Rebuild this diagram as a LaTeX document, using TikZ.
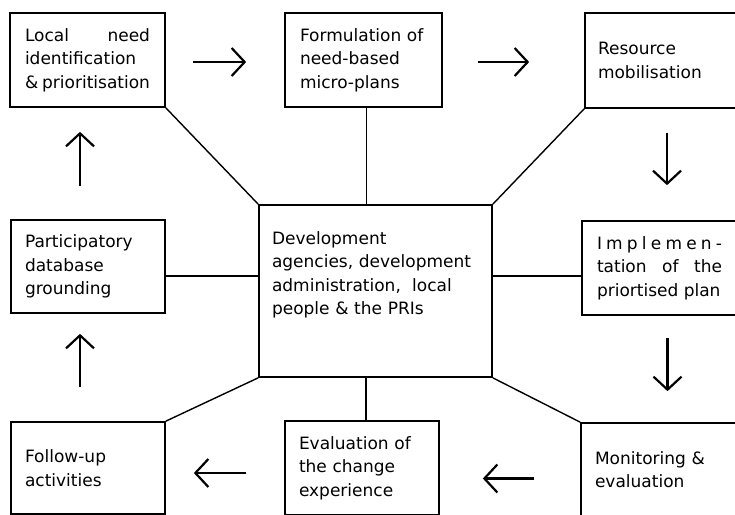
\documentclass[tikz,border=0pt]{standalone}
\usepackage{fontspec}
\setmainfont{DejaVu Sans}
\usetikzlibrary{arrows.meta}
\begin{document}
\begin{tikzpicture}[x=1pt,y=-1pt,
  box/.style={draw, line width=1.7pt, inner sep=0pt, align=left,
    font=\fontsize{17}{23.5}\selectfont},
  link/.style={line width=1.4pt},
  flow/.style={line width=2.2pt, -{Straight Barb[length=13pt,width=28pt,line width=2.2pt]}}]
\useasboundingbox[fill=white] (0,0) rectangle (735,514);

% boxes
\node[box, minimum width=155pt, minimum height=94pt, text width=125pt, align=justify] (L) at (87.5,60)
  {Local\hfill need\\identification\\\&~prioritisation};
\node[box, minimum width=157pt, minimum height=94pt, text width=127pt] (F) at (363.5,60)
  {Formulation of\\need-based\\micro-plans};
\node[box, minimum width=152pt, minimum height=95pt, text width=126pt] (R) at (661,60.5)
  {Resource\\mobilisation};
\node[box, minimum width=154pt, minimum height=93pt, text width=126pt] (P) at (88,266.5)
  {Participatory\\database\\grounding};
\node[box, minimum width=233pt, minimum height=172pt, text width=207pt] (C) at (375.5,291)
  {Development\\agencies, development\\administration,~ local\\people \& the PRIs\\[12pt]\mbox{}};
\node[box, minimum width=155pt, minimum height=94pt, text width=125pt, align=justify] (I) at (659.5,268)
  {I\hfill m\hfill p\hfill l\hfill e\hfill m\hfill e\hfill n\hfill -\\tation\hfill of\hfill the\\priortised plan};
\node[box, minimum width=154pt, minimum height=92pt, text width=126pt] (Fo) at (88,468)
  {Follow-up\\activities};
\node[box, minimum width=154pt, minimum height=94pt, text width=126pt] (E) at (362,468)
  {Evaluation of\\the change\\experience};
\node[box, minimum width=156pt, minimum height=93pt, text width=128pt] (M) at (659,469.5)
  {Monitoring \&\\evaluation};

% connectors to the centre
\coordinate (hl) at (0,276);
\draw[link] (L.south east) -- (C.north west);
\draw[link] ([xshift=3pt]F.south) -- ([xshift=3pt]F.south |- C.north);
\draw[link] (R.south west) -- (C.north east);
\draw[link] (P.east |- hl) -- (C.west |- hl);
\draw[link] (I.west |- hl) -- (C.east |- hl);
\draw[link] (Fo.north east) -- (C.south west);
\draw[link] ([xshift=4pt]E.north) -- ([xshift=4pt]E.north |- C.south);
\draw[link] (M.north west) -- (C.south east);

% flow arrows
\draw[flow, shorten <=27pt, shorten >=38pt] ([yshift=-2pt]L.east) -- ([yshift=-2pt]F.west);
\draw[flow, shorten <=35pt, shorten >=55pt] ([yshift=-2pt]F.east) -- ([yshift=-2pt]F.east -| R.west);
\draw[flow, shorten <=24pt, shorten >=35pt] ([xshift=6pt]R.south) -- ([xshift=6pt]R.south |- I.north);
\draw[flow, shorten <=22pt, shorten >=31pt] ([xshift=8pt]I.south) -- ([xshift=8pt]I.south |- M.north);
\draw[flow, shorten <=46pt, shorten >=43pt] ([yshift=-9pt]M.west) -- ([yshift=-9pt]M.west -| E.east);
\draw[flow, shorten <=38pt, shorten >=28pt] ([yshift=-5pt]E.west) -- ([yshift=-5pt]E.west -| Fo.east);
\draw[flow, shorten <=34pt, shorten >=20pt] ([xshift=-8pt]Fo.north) -- ([xshift=-8pt]Fo.north |- P.south);
\draw[flow, shorten <=33pt, shorten >=24pt] ([xshift=-8pt]P.north) -- ([xshift=-8pt]P.north |- L.south);
\end{tikzpicture}
\end{document}
